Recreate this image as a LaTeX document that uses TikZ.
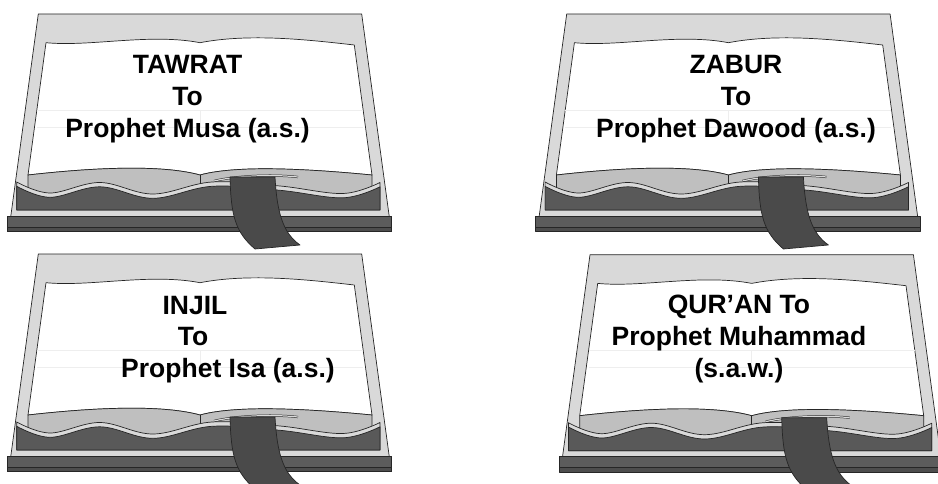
\documentclass[tikz,border=0pt]{standalone}
\usepackage{fontspec}
\setmainfont{Liberation Sans}

\definecolor{cover}{HTML}{D9D9D9}
\definecolor{pagegray}{HTML}{BFBFBF}
\definecolor{blockdark}{HTML}{595959}
\definecolor{basetop}{HTML}{5C5C5C}
\definecolor{basebot}{HTML}{4D4D4D}
\definecolor{ribbon}{HTML}{4A4A4A}
\definecolor{edge}{HTML}{262626}
\definecolor{faint}{HTML}{EEEEEE}

\tikzset{
  outline/.style={draw=edge, line width=0.7pt, line join=round},
  % anchored on the baseline of the last line
  booktext/.style={font=\fontsize{26.5}{31.7}\selectfont\bfseries, align=center,
    text=black, inner sep=0pt, anchor=base},
}

% One open book; coordinates are measured from the page's top-left corner.
\newcommand\bookfig[1]{%
\begin{scope}[shift={#1}]
  % cover board
  \filldraw[fill=cover, outline] (38.3,14) -- (361.7,14) -- (390,222) -- (10,222) -- cycle;
  % white pages
  \filldraw[fill=white, outline]
    (46,42.7) .. controls (90,47) and (150,33) .. (200,42.7)
    .. controls (250,33) and (310,40) .. (354.3,45)
    -- (372,175) .. controls (320,170) and (240,164) .. (200,175)
    .. controls (160,164) and (90,168) .. (28,175) -- cycle;
  % faint ruling across the pages
  \draw[faint, line width=0.6pt] (37,110) -- (363,110) (37,127) -- (363,127) (200,110) -- (200,127);
  % page edges seen from the front
  \filldraw[fill=pagegray, outline]
    (28,175) .. controls (90,168) and (160,164) .. (200,175)
    .. controls (240,164) and (320,170) .. (372,175) -- (372,196) -- (28,196) -- cycle;
  \draw[outline] (200,175) -- (200,190);
  \draw[edge, line width=0.5pt, double=cover, double distance=1.2pt]
    (214,181) .. controls (235,176) and (270,174) .. (298,177);
  % wavy block of pages: light rim, then dark face
  \filldraw[fill=cover, outline] (16.7,210) --
    plot[smooth, tension=0.6] coordinates {(16.7,182)(50,193)(100,182.5)(153,194)(212,182)(280,186)(343,193.5)(380,182.5)}
    -- (380,210) -- cycle;
  \filldraw[fill=blockdark, outline] (16.7,210) --
    plot[smooth, tension=0.6] coordinates {(16.7,186.3)(50,197.3)(100,186.8)(153,198.3)(212,186.3)(280,190.3)(343,197.8)(380,186.8)}
    -- (380,210) -- cycle;
  % base
  \filldraw[fill=basetop, outline] (7.3,216) rectangle (391.7,227);
  \filldraw[fill=basebot, outline] (7.3,227) rectangle (391.7,231.7);
  % bookmark ribbon
  \filldraw[fill=ribbon, outline] (230,177) .. controls (231,215) and (235,232) .. (255,249)
    -- (300,245) .. controls (283,233) and (277,213) .. (275,177) -- cycle;
\end{scope}}

\begin{document}
\begin{tikzpicture}[x=1pt, y=-1pt]
  \useasboundingbox (0,0) rectangle (938,484);
  \clip (0,0) rectangle (938,484);
  \bookfig{(0,0)}
  \bookfig{(528.4,0)}
  \bookfig{(0,240)}
  \bookfig{(551.7,240.7)}

  \node[booktext] (tawrat) at (187.5,137.4) {TAWRAT\\To\\Prophet Musa (a.s.)};
  \node[booktext] (zabur) at (736,137.4) {ZABUR\\To\\Prophet Dawood (a.s.)};
  \node[booktext] (injil1) at (195,314) {INJIL};
  \node[booktext] (injil2) at (193,345.7) {To};
  \node[booktext] (injil3) at (228,377.4) {Prophet Isa (a.s.)};
  \node[booktext] (quran) at (739,377.1) {QUR’AN To\\Prophet Muhammad\\(s.a.w.)};
\end{tikzpicture}
\end{document}
